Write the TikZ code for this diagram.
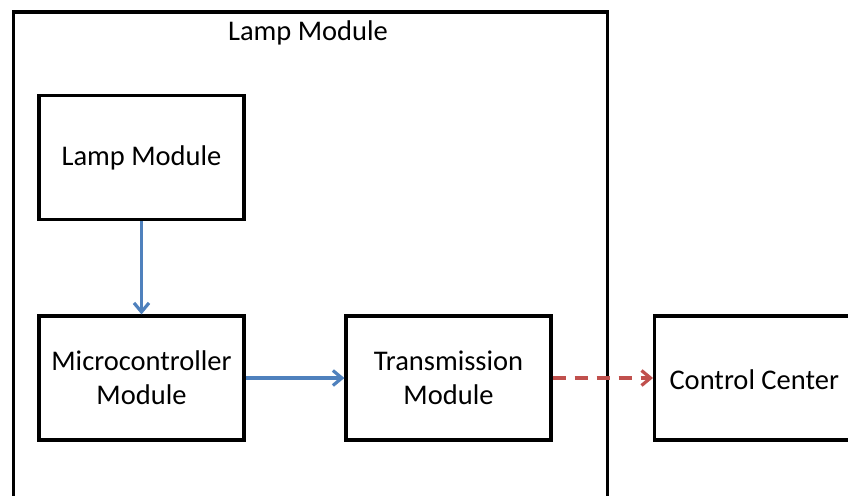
\documentclass[tikz,border=0pt]{standalone}
\usepackage{fontspec}
\setmainfont{Carlito}
\usetikzlibrary{arrows.meta}
\definecolor{cblue}{RGB}{79,129,189}
\definecolor{cred}{RGB}{192,80,77}
\begin{document}
\begin{tikzpicture}[x=1pt,y=-1pt,
  box/.style={draw=black,line width=3.2pt,minimum width=205pt,minimum height=124pt,inner sep=0pt,align=center,font=\fontsize{28.5}{34}\selectfont},
  flow/.style={draw=cblue,line width=3.2pt,-{Straight Barb[length=9pt,width=15pt,line width=3.2pt]}},
  link/.style={draw=cred,line width=3.2pt,dash pattern=on 13pt off 9pt,-{Straight Barb[length=9pt,width=15pt,line width=3.2pt]}}]
\useasboundingbox (0,0) rectangle (848,495);
\clip (0,0) rectangle (848,495);
\fill[white] (0,0) rectangle (848,495);
\node[draw=black,line width=3.2pt,minimum width=594pt,minimum height=540pt,inner sep=0pt,anchor=north west] (outer) at (11.5,10.5) {};
\node[font=\fontsize{28.5}{34}\selectfont] (title) at (308,33) {Lamp Module};
\node[box] (lamp) at (141.5,157.5) {\raisebox{-2pt}{Lamp Module}};
\node[box] (mcu) at (141.5,378) {Microcontroller\\Module};
\node[box] (tx) at (448.5,378) {Transmission\\Module};
\node[box,anchor=west] (cc) at (653,378) {};
\node[font=\fontsize{28.5}{34}\selectfont,anchor=west] (cctext) at (666,380) {Control Center};
\draw[flow] (lamp.south) -- (mcu.north);
\draw[flow] (mcu.east) -- (tx.west);
\draw[link] (tx.east) -- (cc.west);
\end{tikzpicture}
\end{document}
